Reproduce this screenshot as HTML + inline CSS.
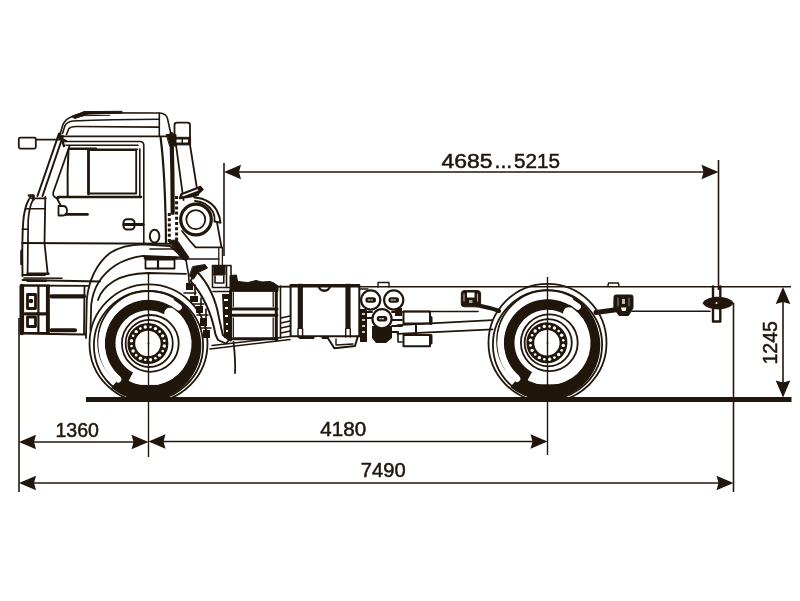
<!DOCTYPE html>
<html><head><meta charset="utf-8"><title>Chassis</title>
<style>
html,body{margin:0;padding:0;background:#fff;overflow:hidden}
svg{display:block;filter:blur(0.4px)}
text{font-family:"Liberation Sans",sans-serif;fill:#20160c;stroke:#20160c;stroke-width:0.5}
</style></head><body>
<svg width="800" height="601" viewBox="0 0 800 601">
<defs>
<path id="ar" d="M0 0 L-17 -7.3 L-15 0 L-17 7.3 Z" fill="#20160c" stroke="none"/>
<clipPath id="gc"><rect x="0" y="0" width="800" height="400"/></clipPath>
</defs>
<g fill="none" stroke="#20160c" stroke-width="1.6">
<line x1="224" y1="163" x2="224" y2="256"/>
<line x1="718.5" y1="160" x2="718.5" y2="290"/>
<line x1="226" y1="172" x2="716" y2="172"/>
<line x1="19" y1="318" x2="19" y2="492"/>
<line x1="733.5" y1="303" x2="733.5" y2="492"/>
<line x1="21" y1="442" x2="146" y2="442"/>
<line x1="151" y1="441.5" x2="545" y2="441.5"/>
<line x1="21" y1="483" x2="731" y2="483"/>
<line x1="783" y1="289" x2="783" y2="396"/>
</g>
<g>
<use href="#ar" transform="translate(224,172) rotate(180)"/>
<use href="#ar" transform="translate(718.5,172)"/>
<use href="#ar" transform="translate(19,442) rotate(180)"/>
<use href="#ar" transform="translate(148.5,442)"/>
<use href="#ar" transform="translate(148.5,441.5) rotate(180)"/>
<use href="#ar" transform="translate(547.5,441.5)"/>
<use href="#ar" transform="translate(19,483) rotate(180)"/>
<use href="#ar" transform="translate(733.5,483)"/>
<use href="#ar" transform="translate(783,287) rotate(-90)"/>
<use href="#ar" transform="translate(783,397.5) rotate(90)"/>
</g>
<g font-size="20">
<text x="441.6" y="168.2" textLength="51" lengthAdjust="spacingAndGlyphs">4685</text>
<text x="494.6" y="168.2" textLength="17.5" lengthAdjust="spacingAndGlyphs">...</text>
<text x="514" y="168.2" textLength="46" lengthAdjust="spacingAndGlyphs">5215</text>
<text x="55.5" y="437.3" textLength="43.5" lengthAdjust="spacingAndGlyphs">1360</text>
<text x="320.3" y="436" textLength="45.8" lengthAdjust="spacingAndGlyphs">4180</text>
<text x="360.8" y="477.3" textLength="44.8" lengthAdjust="spacingAndGlyphs">7490</text>
<text transform="translate(776.9,364.6) rotate(-90)" x="0" y="0" textLength="43.5" lengthAdjust="spacingAndGlyphs">1245</text>
</g>
<g fill="none" stroke="#20160c" stroke-width="1.5">
<line x1="278" y1="286.7" x2="791" y2="286.7"/>
</g>
<g fill="none" stroke="#20160c" stroke-width="1.6" stroke-linejoin="round" stroke-linecap="round">
<rect x="18.8" y="137.6" width="17" height="11" rx="1.5" stroke-width="1.8"/>
<path d="M36 139.6 L60 139.6" stroke-width="1.6"/>
<path d="M59.5 136.5 L62.3 126.5 Q64.5 119.5 71.5 116.8 C76 114.5 80 113.2 88 112.8 L159.3 113 Q166.5 113.3 167.6 119 L171.3 136"/>
<path d="M72 116.5 L84 111.6 L122 111.3 L122 113 L88 114.2 L75 118.5 Z" fill="#20160c" stroke-width="1"/>
<path d="M76 115.8 L110 115.3" stroke-width="1"/>
<path d="M62.5 133.5 L65 125.5 Q67.5 121.5 73 121 C100 120 130 119.5 159.3 119.3"/>
<path d="M66.5 134.5 L68.7 129 Q70.7 126.5 76 126.5 L159.3 127.1"/>
<path d="M62 136.4 L171 136.4"/>
<path d="M159.3 113.3 L159.3 136.4"/>
<path d="M64 141.5 L140 141.5 Q143.8 141.6 143.8 145.5 L143.8 243.5"/>
<path d="M66 145.3 L138 145.3"/>
<path d="M70 149.3 L137.5 149.3"/>
<path d="M70 148.5 L96 148.5" stroke-width="2.2"/>
<path d="M59 133.5 L37.5 196" stroke-width="2"/>
<path d="M63 136 L42.5 196" stroke-width="2"/>
<path d="M58 137 L66 141 M60 134 L64 146" stroke-width="2.4"/>
<path d="M69.5 146 C64 162 57 182 53.2 192.5 C52.5 196 55 198.3 58.5 198.3" stroke-width="1.8"/>
<path d="M68.5 149.5 C67.6 165 67.4 185 67.7 197" stroke-width="2"/>
<path d="M88.5 150 L88.5 194" stroke-width="2.8"/>
<path d="M90 150.2 L136.2 150.2 L136.2 193.5 L90 193.5" stroke-width="1.8"/>
<path d="M58 197 L141 197" stroke-width="2.6"/>
<path d="M139.8 149 L139.8 196"/>
<path d="M160.6 137.3 C163.5 160 165.5 190 166 243" stroke-width="2.2"/>
<path d="M171.5 134 C172.3 160 172.7 190 172.7 213" stroke-width="4.2"/>
<path d="M166.5 134.5 L176 134.5 L176 146 L170 146 Z" fill="#20160c" stroke-width="1"/>
<path d="M169.3 213 L169.3 243 M176.6 196 L176.6 243" stroke-width="3" stroke-dasharray="3 2.2" stroke-linecap="butt"/>
<path d="M22.3 243 L171 243.8" stroke-width="2"/>
<path d="M150 249 L176 249"/>
<path d="M30.8 196.6 C27 201 25.3 207 24 215 C22.5 225 22.3 240 22.3 255 L22.5 276" stroke-width="1.9"/>
<path d="M29 195.5 L33.5 195.5 L33.5 199.5" stroke-width="2.6"/>
<path d="M31.6 198.3 L45.8 198.3" stroke-width="1.8"/>
<path d="M33 200 C30 205 28.8 212 28.2 220 L27.6 272.6" stroke-width="1.7"/>
<path d="M45.3 197 L44.5 243 L47.7 273.7" stroke-width="1.8"/>
<path d="M25.8 208.7 L45 208.7 M22.3 229.3 L28.2 229.3"/>
<path d="M21.5 251 L21.5 264" stroke-width="2.6"/>
<path d="M57 198.5 L61 206" stroke-width="1.8"/>
<path d="M58.5 206 L63 206 Q67 206 67 210.8 Q67 215.5 63 215.5 L58.5 215.5 Z" stroke-width="1.8"/>
<path d="M66 214.4 L87.5 214.4" stroke-width="2.6"/>
<rect x="123.5" y="219.2" width="11" height="10.3" rx="3.5" stroke-width="2"/>
<path d="M124 224.4 L143 224.4" stroke-width="3"/>
<ellipse cx="154.6" cy="236.2" rx="4.8" ry="6.4" stroke-width="2"/>
<path d="M27.5 274.2 L47.7 274.2 M24 278 L62 278.3"/>
<path d="M86 338 L86.8 300 C88.5 280 97 263 110 253 C119 247 130 244.5 143 244.3 L170 246 L186 260" stroke-width="1.8"/>
<path d="M90.5 330 L91.2 305 C93 288 102 274 116 265 C124 260 133 257 143 255.8 L180 257.3" stroke-width="1.8"/>
<path d="M98 300 C100 293 106 286 114 281 C122 276 132 273.5 148 273 L186 273.8" stroke-width="1.8"/>
<rect x="145.5" y="259.5" width="29" height="9" stroke-width="1.8"/>
<path d="M158 259.5 L158 268.5" stroke-width="2.2"/>
<path d="M145 258 L176 258" stroke-width="2.8"/>
<path d="M168.5 240.5 L177 240 L189 257.5 L186.5 260.5 L182 259 Z" fill="#20160c" stroke-width="1"/>
<path d="M186 260 L188.5 274.5 L189.5 287" stroke-width="1.6"/>
</g>
<g fill="none" stroke="#20160c" stroke-width="1.6" stroke-linejoin="round" stroke-linecap="round">
<path d="M174.5 137.5 L174.5 125 Q174.5 122.6 177 122.6 L187.5 122.6 Q190 122.6 190 125 L190 137.5" stroke-width="1.8"/>
<rect x="174" y="137.3" width="16.6" height="7.6" fill="#20160c" stroke-width="1"/>
<rect x="176.5" y="139.5" width="5" height="3" fill="#fff" stroke="none"/>
<rect x="183" y="139.5" width="5" height="3" fill="#fff" stroke="none"/>
<path d="M176 145 L183.5 200" stroke-width="1.8"/>
<path d="M190 145 L198 195" stroke-width="1.8"/>
<circle cx="196" cy="219.5" r="15.3" stroke-width="3.2"/>
<circle cx="195.8" cy="219.6" r="9.5" stroke-width="1.8"/>
<path d="M179.5 198.5 L181 194 L200.5 186.5 L203 189.5 L196 196 Z" fill="#20160c" stroke-width="1.4"/>
<path d="M183 195.5 L197.5 190" stroke="#fff" stroke-width="1.4"/>
<path d="M194.5 197.5 C205 198 214 204 217.5 212 C219.5 216 220.2 219 220.3 222.5" stroke-width="2"/>
<path d="M195 201 C204 201.5 210 207 213 212 C214.5 215 214.8 218 214.6 221.3" stroke-width="1.8"/>
<path d="M214.5 221.5 L220.5 222.6" stroke-width="1.8"/>
<path d="M217 222.4 L221.5 247.4" stroke-width="1.8"/>
<path d="M218.8 247.5 L218.8 265 M222.4 247.5 L222.4 265" stroke-width="1.3"/>
<path d="M182 231 L190 241 L195.7 247.4 L221.5 247.4" stroke-width="1.8"/>
</g>
<g fill="none" stroke="#20160c" stroke-width="1.6" stroke-linejoin="round" stroke-linecap="round">
<path d="M22.5 275 L45 275 M22.5 280 L100 281.5 M22.5 285.5 L88 285.8" stroke-width="1.8"/>
<rect x="21.3" y="285.5" width="27.4" height="47.5" stroke-width="1.8"/>
<path d="M21.8 286 L21.8 333" stroke-width="4.6"/>
<path d="M38.4 286 L38.4 333 M47 286 L47 333" stroke-width="2.2"/>
<rect x="27.5" y="294.5" width="8" height="14" stroke-width="2.8"/>
<circle cx="31" cy="301" r="1.5" fill="#20160c"/>
<rect x="27.5" y="317" width="8" height="9.5" stroke-width="2.8"/>
<path d="M25 313.8 L48 313.8" stroke-width="3.2"/>
<path d="M48.7 286 L48.7 333 M84.5 286 L84 334" stroke-width="1.8"/>
<path d="M51.5 296.3 L84 296.3" stroke-width="4.2"/>
<path d="M51.5 330.2 L75 330.2" stroke-width="4"/>
<path d="M21 333.5 L85 334.5" stroke-width="2"/>
<path d="M27.5 273.8 L48.5 273.8 M27.5 280.8 L46 280.8" stroke-width="2.4"/>
<path d="M196.5 271 C208 283 216 300 219 318 L222.8 335 L229 340 L226 343.5 L218 340 L215.5 334.5 C212.5 318 206 298 190.5 281 Z" fill="#fff" stroke-width="1.9"/>
<path d="M193 266.5 L205 264.5 L207.5 268 L198 272.5 L193.5 279 L189.5 276 Z" fill="#20160c" stroke-width="1"/>
<path d="M186 283 L193 283 L193 290 L186 290 Z M190 296 L198 296 L198 302 L190 302 Z M196 306 L203 306 L203 313 L196 313 Z M200 318 L207 318 L207 326 L200 326 Z M203 330 L210 330 L210 338 L203 338 Z" fill="#20160c" stroke="none"/>
<path d="M184 293 L196 293 M193 304 L204 304 M197 315 L208 315 M201 328 L211 328" stroke-width="1.6"/>
<path d="M195 285 L195 295 M201 298 L201 306 M206 309 L206 318" stroke-width="1.6"/>
<path d="M176 259 L218.5 259" stroke-width="1.6"/>
<path d="M212.5 265.5 L231 265.5 L231 287.5 L212.5 287.5 Z" stroke-width="1.6"/>
<path d="M213.5 266 L225 266 L225 275 L213.5 275 Z" fill="#20160c" stroke-width="1"/>
<path d="M215 276 L215 283 L223.8 283 L223.8 276" stroke-width="1.6"/>
<path d="M226.5 266 L226.5 287.5" stroke-width="1.6"/>
<path d="M213 291.5 L229 291.5" stroke-width="1.6"/>
<path d="M222 294 L229 294 L229 338 L224 338 Z" fill="#20160c" stroke="none"/>
<path d="M224 300 L228 300 M225 308 L228 308 M225 316 L228 316 M226 324 L228 324 M226 331 L228 331" stroke="#fff" stroke-width="2.2" stroke-linecap="butt"/>
<path d="M233.5 342 C235 355 235.5 365 235 373" stroke-width="1.8"/>
<path d="M210 349 L290 339.5 M212 345.5 L290 336.5" stroke-width="1.6"/>
<path d="M230 291 L230 275.5 L236.5 275 L237.5 281.5 L248 282.5 L256 280.5 L262 282 L270 281.5 L274 283 L278 286 L278 291 Z" fill="#20160c" stroke-width="1"/>
<path d="M230.5 291 L230.5 340 M276.3 291 L276.3 340" stroke-width="3"/>
<path d="M229.5 309 L277 309 M229.5 315.2 L277 315.2 M229.5 338.8 L277 338.8" stroke-width="3"/>
<path d="M233.3 292.5 L233.3 306.5 M273.2 292.5 L273.2 306.5 M233.3 318 L233.3 336.5 M273.2 318 L273.2 336.5" stroke-width="1.3"/>
<path d="M280.5 286 L280.5 338" stroke-width="1.6"/>
<path d="M278 286.5 L291 286.5" stroke-width="1.6"/>
<path d="M281 318 L290 316 M281 323 L290 321 M281 328 L290 326 M281 333 L290 331" stroke-width="1.6"/>
<path d="M290.6 285 L359.3 285 L359.3 336.2 L290.6 336.2 Z" stroke-width="2"/>
<path d="M300.3 283.8 L300.3 329" stroke-width="5.2" stroke-linecap="butt"/>
<path d="M348 283.8 L348 329" stroke-width="5.2" stroke-linecap="butt"/>
<path d="M298 329 L298 337 M302.6 329 L302.6 337 M345.7 329 L345.7 337 M350.3 329 L350.3 337" stroke-width="1.4"/>
<path d="M318.7 285.5 C318.7 292.5 330 292.5 330 285.5" stroke-width="2.4"/>
<path d="M300 337.5 L327.5 337.5" stroke-width="2.8"/>
<ellipse cx="318" cy="338.5" rx="4" ry="1.4" fill="#fff" stroke="none"/>
<path d="M327.5 337.5 L334.4 348.2 L355 346 L357.8 336.5" stroke-width="2"/>
<path d="M336 339 L336 345 L353 344" stroke-width="1.4"/>
</g>
<g fill="none" stroke="#20160c" stroke-width="1.6" stroke-linejoin="round" stroke-linecap="round">
<path d="M360 309 L367 309 L367 342 L360 342 Z M372 326 L392 326 L392 338 L386 343 L376 343 L372 338 Z M395 308 L402 308 L402 316 L395 316 Z" fill="#20160c" stroke="none"/>
<path d="M362 314 L365 314 M362 320 L365 320 M362 326 L365 326 M362 332 L365 332" stroke="#fff" stroke-width="1.6" stroke-linecap="butt"/>
<path d="M367 312 L372 312 M367 318 L372 318 M392 312 L402 312 M392 320 L402 320 M392 326 L402 326 M392 332 L398 332" stroke-width="1.8"/>
<path d="M360 289 L368 289" stroke-width="1.4"/>
<path d="M398 332 L398 342 L402 342" stroke-width="1.6"/>
<circle cx="370.7" cy="300" r="9.6" fill="#fff" stroke-width="2.2"/>
<rect x="365.4" y="297.3" width="10.6" height="5.4" rx="2.7" fill="#20160c" stroke="none"/>
<path d="M368.2 300 L373.2 300" stroke="#fff" stroke-width="1" stroke-dasharray="1.5 1.2"/>
<circle cx="393.7" cy="300" r="9.6" fill="#fff" stroke-width="2.2"/>
<rect x="388.4" y="297.3" width="10.6" height="5.4" rx="2.7" fill="#20160c" stroke="none"/>
<path d="M391.2 300 L396.2 300" stroke="#fff" stroke-width="1" stroke-dasharray="1.5 1.2"/>
<circle cx="382" cy="318.8" r="9.6" fill="#fff" stroke-width="2.2"/>
<rect x="376.7" y="316.1" width="10.6" height="5.4" rx="2.7" fill="#20160c" stroke="none"/>
<path d="M379.5 318.8 L384.5 318.8" stroke="#fff" stroke-width="1" stroke-dasharray="1.5 1.2"/>
<path d="M378 287 L378 282.5 L389 282.5 L389 287" stroke-width="1.4"/>
<rect x="403.5" y="311.5" width="26.5" height="12" fill="#fff" stroke-width="2"/>
<rect x="403.5" y="335" width="26.5" height="11.2" fill="#fff" stroke-width="2"/>
<path d="M431 317.5 L431 323.5 M431 335.5 L431 343" stroke-width="3"/>
<path d="M397.5 325.2 L492.5 320.2 M397.5 333.8 L492.5 329.4" stroke-width="1.8"/>
<path d="M416 324.5 L416 333.2" stroke-width="2"/>
<path d="M403.5 311.5 L478 311.5"/>
<rect x="461.3" y="290.6" width="19.3" height="16.2" rx="3" fill="#20160c" stroke-width="1"/>
<path d="M467 292.5 L474.5 292.5 L474.5 297.5 L467 297.5 Z" fill="#fff" stroke="none"/>
<path d="M469 300 L472.5 300 L472.5 303 L469 303 Z" fill="#fff" stroke="none" opacity="0.6"/>
<path d="M464 294 L464 301 M477.5 294 L477.5 301" stroke="#fff" stroke-width="1.2" opacity="0.6"/>
<path d="M476 305 C485 307 492 308 499 311" stroke-width="4.2"/>
<path d="M614 296.5 Q614 295 616 295 L631 295 Q633 295 633 296.5 L633 308 L628.5 315.5 L619 315.5 L614 308 Z" fill="#20160c" stroke-width="1"/>
<path d="M621 307.5 L626.5 307.5 L625.5 311 L622 311 Z" fill="#fff" stroke="none"/>
<path d="M622 299 L625 299 L625 304 L622 304 Z" fill="#fff" stroke="none" opacity="0.7"/>
<path d="M618 298 L618 306 M629 298 L629 306" stroke="#fff" stroke-width="1" opacity="0.5"/>
<path d="M596 312.5 L616 309.8" stroke-width="5"/>
<path d="M607.8 286.5 L608.5 283 L618.5 283 L619 286.5" stroke-width="1.4"/>
<path d="M632 311.3 L710 311.3"/>
<path d="M713 286.5 L713 321.5 L720.3 321.5 L720.3 286.5" stroke-width="2.4"/>
<path d="M702.5 303 C707 294.5 729 294.5 733.8 303 C729 311.5 707 311.5 702.5 303 Z" fill="#20160c" stroke="none"/>
<circle cx="716.5" cy="303" r="1" fill="#fff" stroke="none"/>
</g>
<g clip-path="url(#gc)">
<g fill="none" stroke="#20160c" stroke-width="1.8">
<circle cx="148.5" cy="343.4" r="59"/>
<circle cx="148.5" cy="345.4" r="54.6"/>
<circle cx="148.5" cy="341.4" r="50.4"/>
</g>
<path d="M128.03 381.90 L125.88 380.67 L123.80 379.33 L121.81 377.87 L119.90 376.31 L118.08 374.63 L116.35 372.86 L114.74 370.99 L113.23 369.03 L111.83 366.99 L110.55 364.87 L109.40 362.68 L108.37 360.44 L107.46 358.13 L106.70 355.78 L106.06 353.39 L105.56 350.97 L105.20 348.52 L104.98 346.06 L104.90 343.59 L104.96 341.12 L105.16 338.65 L105.50 336.20 L105.98 333.78 L106.59 331.38 L107.34 329.03 L108.22 326.72 L109.23 324.46 L110.37 322.26 L111.63 320.13 L113.00 318.08 L114.50 316.11 L116.10 314.23 L117.80 312.44 L119.61 310.75 L121.51 309.16 L123.49 307.68 L125.56 306.32 L127.70 305.08 L129.90 303.97 L132.17 302.97 L134.49 302.11 L136.85 301.39 L139.25 300.79 L141.68 300.34 L144.13 300.02 L146.60 299.84 L149.07 299.80 L151.54 299.91 L154.00 300.15 L156.45 300.53 L158.86 301.05 L161.25 301.71 L163.59 302.49 L165.89 303.42 L168.12 304.47 L170.30 305.64 L172.41 306.94 L174.43 308.35 L176.38 309.88 L178.24 311.51 L171.01 319.27 L169.60 318.03 L168.13 316.87 L166.59 315.80 L165.00 314.82 L163.35 313.93 L161.66 313.14 L159.92 312.44 L158.15 311.84 L156.34 311.35 L154.51 310.95 L152.66 310.66 L150.80 310.48 L148.93 310.40 L147.06 310.43 L145.19 310.57 L143.34 310.81 L141.50 311.15 L139.68 311.60 L137.89 312.15 L136.14 312.80 L134.42 313.55 L132.75 314.40 L131.13 315.34 L129.57 316.37 L128.07 317.48 L126.63 318.68 L125.27 319.96 L123.98 321.32 L122.76 322.74 L121.63 324.24 L120.59 325.79 L119.64 327.40 L118.78 329.06 L118.01 330.77 L117.35 332.52 L116.78 334.30 L116.31 336.12 L115.95 337.95 L115.70 339.81 L115.55 341.67 L115.50 343.54 L115.56 345.41 L115.73 347.28 L116.00 349.13 L116.38 350.96 L116.86 352.77 L117.44 354.55 L118.12 356.29 L118.90 358.00 L119.78 359.65 L120.75 361.25 L121.80 362.80 L122.95 364.28 L124.17 365.69 L125.47 367.04 L126.85 368.31 L128.30 369.49 L129.81 370.60 L131.38 371.61 L133.01 372.54Z" fill="#20160c"/>
<path d="M174.40 298.54 L176.83 300.06 L179.17 301.70 L181.42 303.47 L183.57 305.35 L185.63 307.33 L187.58 309.43 L189.42 311.62 L191.14 313.91 L192.74 316.29 L194.22 318.75 L195.56 321.29 L196.78 323.90 L197.85 326.57 L198.79 329.30 L199.58 332.08 L200.22 334.90 L200.72 337.76 L201.07 340.65 L201.26 343.55 L201.29 346.47 L201.17 349.40 L200.90 352.33 L200.46 355.24 L199.87 358.13 L199.12 361.00 L198.22 363.82 L197.15 366.61 L195.94 369.34 L194.57 372.00 L193.06 374.60 L191.40 377.12 L189.60 379.55 L187.66 381.88 L185.59 384.11 L183.39 386.23 L181.07 388.22 L178.63 390.09 L176.09 391.83 L173.44 393.42 L170.70 394.87 L167.88 396.16 L164.98 397.29 L162.01 398.26 L158.98 399.06 L155.91 399.69 L152.80 400.14 L149.66 400.41 L146.51 400.50 L143.35 400.41 L140.19 400.14 L137.05 399.68 L133.94 399.04 L130.86 398.22 L127.84 397.22 L124.87 396.05 L121.98 394.71 L119.17 393.20 L116.45 391.52 L113.83 389.69 L111.32 387.71 L121.31 375.80 L123.14 377.26 L125.05 378.61 L127.03 379.85 L129.08 380.98 L131.18 381.99 L133.34 382.89 L135.55 383.67 L137.79 384.32 L140.07 384.85 L142.37 385.25 L144.69 385.53 L147.02 385.67 L149.36 385.69 L151.70 385.58 L154.02 385.34 L156.33 384.97 L158.61 384.47 L160.87 383.85 L163.08 383.11 L165.25 382.24 L167.37 381.26 L169.44 380.16 L171.43 378.94 L173.36 377.62 L175.22 376.20 L176.99 374.67 L178.67 373.05 L180.26 371.34 L181.76 369.54 L183.15 367.66 L184.44 365.71 L185.62 363.69 L186.68 361.61 L187.63 359.47 L188.46 357.29 L189.16 355.06 L189.74 352.80 L190.20 350.50 L190.53 348.19 L190.73 345.86 L190.80 343.52 L190.74 341.19 L190.56 338.86 L190.24 336.54 L189.80 334.24 L189.23 331.98 L188.54 329.74 L187.72 327.55 L186.78 325.41 L185.73 323.32 L184.57 321.30 L183.29 319.34 L181.91 317.45 L180.42 315.65 L178.84 313.93 L177.17 312.30 L175.41 310.76 L173.56 309.32 L171.64 307.99 L169.65 306.77Z" fill="#20160c"/>
<path d="M118.22 379.48 A47.1 47.1 0 0 1 178.78 307.32" fill="none" stroke="#fff" stroke-width="6.2" stroke-linecap="round"/>
<path d="M170.06 313.75 A36.2 36.2 0 0 1 138.11 377.83" fill="none" stroke="#fff" stroke-width="12" stroke-linecap="round"/>
<g fill="none" stroke="#20160c" stroke-width="1.8">
<circle cx="150.3" cy="343.4" r="28.4"/>
<circle cx="149.2" cy="343.4" r="23.6"/>
</g>
<circle cx="147.9" cy="343.4" r="16.6" fill="none" stroke="#20160c" stroke-width="7.8"/>
<circle cx="164.30" cy="346.00" r="1.7" fill="#fff"/>
<circle cx="162.69" cy="350.94" r="1.3" fill="#fff"/>
<circle cx="159.64" cy="355.14" r="1.7" fill="#fff"/>
<circle cx="155.44" cy="358.19" r="1.3" fill="#fff"/>
<circle cx="150.50" cy="359.80" r="1.7" fill="#fff"/>
<circle cx="145.30" cy="359.80" r="1.3" fill="#fff"/>
<circle cx="140.36" cy="358.19" r="1.7" fill="#fff"/>
<circle cx="136.16" cy="355.14" r="1.3" fill="#fff"/>
<circle cx="133.11" cy="350.94" r="1.7" fill="#fff"/>
<circle cx="131.50" cy="346.00" r="1.3" fill="#fff"/>
<circle cx="131.50" cy="340.80" r="1.7" fill="#fff"/>
<circle cx="133.11" cy="335.86" r="1.3" fill="#fff"/>
<circle cx="136.16" cy="331.66" r="1.7" fill="#fff"/>
<circle cx="140.36" cy="328.61" r="1.3" fill="#fff"/>
<circle cx="145.30" cy="327.00" r="1.7" fill="#fff"/>
<circle cx="150.50" cy="327.00" r="1.3" fill="#fff"/>
<circle cx="155.44" cy="328.61" r="1.7" fill="#fff"/>
<circle cx="159.64" cy="331.66" r="1.3" fill="#fff"/>
<circle cx="162.69" cy="335.86" r="1.7" fill="#fff"/>
<circle cx="164.30" cy="340.80" r="1.3" fill="#fff"/>
<circle cx="148.5" cy="343.4" r="0.9" fill="#20160c"/>
<path d="M134.5 384.9 L162.5 384.9 L162.5 398.4 L134.5 398.4Z" fill="#20160c"/>
<g fill="none" stroke="#20160c" stroke-width="1.8">
<circle cx="547.5" cy="342.8" r="59"/>
<circle cx="547.5" cy="344.8" r="54.6"/>
<circle cx="547.5" cy="340.8" r="50.4"/>
</g>
<path d="M527.03 381.30 L524.88 380.07 L522.80 378.73 L520.81 377.27 L518.90 375.71 L517.08 374.03 L515.35 372.26 L513.74 370.39 L512.23 368.43 L510.83 366.39 L509.55 364.27 L508.40 362.08 L507.37 359.84 L506.46 357.53 L505.70 355.18 L505.06 352.79 L504.56 350.37 L504.20 347.92 L503.98 345.46 L503.90 342.99 L503.96 340.52 L504.16 338.05 L504.50 335.60 L504.98 333.18 L505.59 330.78 L506.34 328.43 L507.22 326.12 L508.23 323.86 L509.37 321.66 L510.63 319.53 L512.00 317.48 L513.50 315.51 L515.10 313.63 L516.80 311.84 L518.61 310.15 L520.51 308.56 L522.49 307.08 L524.56 305.72 L526.70 304.48 L528.90 303.37 L531.17 302.37 L533.49 301.51 L535.85 300.79 L538.25 300.19 L540.68 299.74 L543.13 299.42 L545.60 299.24 L548.07 299.20 L550.54 299.31 L553.00 299.55 L555.45 299.93 L557.86 300.45 L560.25 301.11 L562.59 301.89 L564.89 302.82 L567.12 303.87 L569.30 305.04 L571.41 306.34 L573.43 307.75 L575.38 309.28 L577.24 310.91 L570.01 318.67 L568.60 317.43 L567.13 316.27 L565.59 315.20 L564.00 314.22 L562.35 313.33 L560.66 312.54 L558.92 311.84 L557.15 311.24 L555.34 310.75 L553.51 310.35 L551.66 310.06 L549.80 309.88 L547.93 309.80 L546.06 309.83 L544.19 309.97 L542.34 310.21 L540.50 310.55 L538.68 311.00 L536.89 311.55 L535.14 312.20 L533.42 312.95 L531.75 313.80 L530.13 314.74 L528.57 315.77 L527.07 316.88 L525.63 318.08 L524.27 319.36 L522.98 320.72 L521.76 322.14 L520.63 323.64 L519.59 325.19 L518.64 326.80 L517.78 328.46 L517.01 330.17 L516.35 331.92 L515.78 333.70 L515.31 335.52 L514.95 337.35 L514.70 339.21 L514.55 341.07 L514.50 342.94 L514.56 344.81 L514.73 346.68 L515.00 348.53 L515.38 350.36 L515.86 352.17 L516.44 353.95 L517.12 355.69 L517.90 357.40 L518.78 359.05 L519.75 360.65 L520.80 362.20 L521.95 363.68 L523.17 365.09 L524.47 366.44 L525.85 367.71 L527.30 368.89 L528.81 370.00 L530.38 371.01 L532.01 371.94Z" fill="#20160c"/>
<path d="M573.40 297.94 L575.83 299.46 L578.17 301.10 L580.42 302.87 L582.57 304.75 L584.63 306.73 L586.58 308.83 L588.42 311.02 L590.14 313.31 L591.74 315.69 L593.22 318.15 L594.56 320.69 L595.78 323.30 L596.85 325.97 L597.79 328.70 L598.58 331.48 L599.22 334.30 L599.72 337.16 L600.07 340.05 L600.26 342.95 L600.29 345.87 L600.17 348.80 L599.90 351.73 L599.46 354.64 L598.87 357.53 L598.12 360.40 L597.22 363.22 L596.15 366.01 L594.94 368.74 L593.57 371.40 L592.06 374.00 L590.40 376.52 L588.60 378.95 L586.66 381.28 L584.59 383.51 L582.39 385.63 L580.07 387.62 L577.63 389.49 L575.09 391.23 L572.44 392.82 L569.70 394.27 L566.88 395.56 L563.98 396.69 L561.01 397.66 L557.98 398.46 L554.91 399.09 L551.80 399.54 L548.66 399.81 L545.51 399.90 L542.35 399.81 L539.19 399.54 L536.05 399.08 L532.94 398.44 L529.86 397.62 L526.84 396.62 L523.87 395.45 L520.98 394.11 L518.17 392.60 L515.45 390.92 L512.83 389.09 L510.32 387.11 L520.31 375.20 L522.14 376.66 L524.05 378.01 L526.03 379.25 L528.08 380.38 L530.18 381.39 L532.34 382.29 L534.55 383.07 L536.79 383.72 L539.07 384.25 L541.37 384.65 L543.69 384.93 L546.02 385.07 L548.36 385.09 L550.70 384.98 L553.02 384.74 L555.33 384.37 L557.61 383.87 L559.87 383.25 L562.08 382.51 L564.25 381.64 L566.37 380.66 L568.44 379.56 L570.43 378.34 L572.36 377.02 L574.22 375.60 L575.99 374.07 L577.67 372.45 L579.26 370.74 L580.76 368.94 L582.15 367.06 L583.44 365.11 L584.62 363.09 L585.68 361.01 L586.63 358.87 L587.46 356.69 L588.16 354.46 L588.74 352.20 L589.20 349.90 L589.53 347.59 L589.73 345.26 L589.80 342.92 L589.74 340.59 L589.56 338.26 L589.24 335.94 L588.80 333.64 L588.23 331.38 L587.54 329.14 L586.72 326.95 L585.78 324.81 L584.73 322.72 L583.57 320.70 L582.29 318.74 L580.91 316.85 L579.42 315.05 L577.84 313.33 L576.17 311.70 L574.41 310.16 L572.56 308.72 L570.64 307.39 L568.65 306.17Z" fill="#20160c"/>
<path d="M517.22 378.88 A47.1 47.1 0 0 1 577.78 306.72" fill="none" stroke="#fff" stroke-width="6.2" stroke-linecap="round"/>
<path d="M569.06 313.15 A36.2 36.2 0 0 1 537.11 377.23" fill="none" stroke="#fff" stroke-width="12" stroke-linecap="round"/>
<g fill="none" stroke="#20160c" stroke-width="1.8">
<circle cx="549.3" cy="342.8" r="28.4"/>
<circle cx="548.2" cy="342.8" r="23.6"/>
</g>
<circle cx="546.9" cy="342.8" r="16.6" fill="none" stroke="#20160c" stroke-width="7.8"/>
<circle cx="563.30" cy="345.40" r="1.7" fill="#fff"/>
<circle cx="561.69" cy="350.34" r="1.3" fill="#fff"/>
<circle cx="558.64" cy="354.54" r="1.7" fill="#fff"/>
<circle cx="554.44" cy="357.59" r="1.3" fill="#fff"/>
<circle cx="549.50" cy="359.20" r="1.7" fill="#fff"/>
<circle cx="544.30" cy="359.20" r="1.3" fill="#fff"/>
<circle cx="539.36" cy="357.59" r="1.7" fill="#fff"/>
<circle cx="535.16" cy="354.54" r="1.3" fill="#fff"/>
<circle cx="532.11" cy="350.34" r="1.7" fill="#fff"/>
<circle cx="530.50" cy="345.40" r="1.3" fill="#fff"/>
<circle cx="530.50" cy="340.20" r="1.7" fill="#fff"/>
<circle cx="532.11" cy="335.26" r="1.3" fill="#fff"/>
<circle cx="535.16" cy="331.06" r="1.7" fill="#fff"/>
<circle cx="539.36" cy="328.01" r="1.3" fill="#fff"/>
<circle cx="544.30" cy="326.40" r="1.7" fill="#fff"/>
<circle cx="549.50" cy="326.40" r="1.3" fill="#fff"/>
<circle cx="554.44" cy="328.01" r="1.7" fill="#fff"/>
<circle cx="558.64" cy="331.06" r="1.3" fill="#fff"/>
<circle cx="561.69" cy="335.26" r="1.7" fill="#fff"/>
<circle cx="563.30" cy="340.20" r="1.3" fill="#fff"/>
<circle cx="547.5" cy="342.8" r="0.9" fill="#20160c"/>
<path d="M533.5 384.3 L561.5 384.3 L561.5 397.8 L533.5 397.8Z" fill="#20160c"/>
</g>
<g stroke="#20160c" stroke-width="1.4">
<line x1="148.5" y1="273" x2="148.5" y2="457"/>
<line x1="547.5" y1="277" x2="547.5" y2="455"/>
</g>
<line x1="86" y1="399.5" x2="791.5" y2="399.5" stroke="#20160c" stroke-width="5"/>
</svg>
</body></html>
